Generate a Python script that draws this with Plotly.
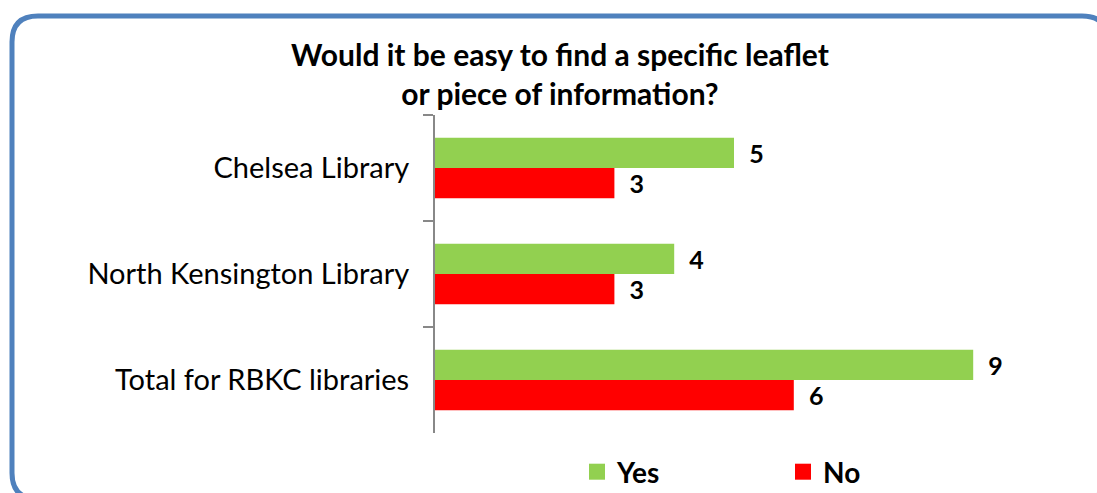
import plotly.graph_objects as go

categories = ["Chelsea Library", "North Kensington Library", "Total for RBKC libraries"]
yes_values = [5, 4, 9]
no_values = [3, 3, 6]
series_names = ["Yes", "No"]
title_text = "Would it be easy to find a specific leaflet<br>or piece of information?"

W_PX, H_PX = 1097, 493
L, R, T, B = 435, 64, 115, 60
PW, PH = W_PX - L - R, H_PX - T - B

def px(x):
    return (x - L) / PW

def py(y):
    return (H_PX - B - y) / PH

FONT = "Lato"
GREEN = "#92D050"
RED = "#FF0000"
COLORS = [GREEN, RED]
LBL = dict(family=FONT, size=29, color="black", weight="bold")

fig = go.Figure()
for name, vals, col in zip(series_names, [yes_values, no_values], COLORS):
    fig.add_trace(go.Bar(
        name=name, y=categories, x=vals, orientation="h",
        marker=dict(color=col, line=dict(width=0)),
        text=vals, texttemplate="\u00a0\u00a0%{x}", textposition="outside",
        textfont=LBL, cliponaxis=False, showlegend=False, legendgroup=name,
    ))
# legend entries with larger square swatches
for name, col in zip(series_names, COLORS):
    fig.add_trace(go.Scatter(
        name=name, x=[None], y=[None], mode="markers",
        marker=dict(symbol="square", size=18, color=col),
        showlegend=True, legendgroup=name, hoverinfo="skip",
    ))

# rounded border
x0, x1, y0, y1, r = 12, 1108, 16, 499, 26
path = (
    f"M {px(x0 + r)},{py(y1)} Q {px(x0)},{py(y1)} {px(x0)},{py(y1 - r)} "
    f"L {px(x0)},{py(y0 + r)} "
    f"Q {px(x0)},{py(y0)} {px(x0 + r)},{py(y0)} "
    f"L {px(x1 - r)},{py(y0)} Q {px(x1)},{py(y0)} {px(x1)},{py(y0 + r)} "
    f"L {px(x1)},{py(y1 - r)} Q {px(x1)},{py(y1)} {px(x1 - r)},{py(y1)} Z"
)

fig.update_layout(
    width=W_PX, height=H_PX,
    margin=dict(l=L, r=R, t=T, b=B, autoexpand=False),
    paper_bgcolor="white", plot_bgcolor="white",
    barmode="group", bargap=0.43, bargroupgap=0,
    showlegend=True,
    title=dict(
        text=title_text, x=560 / W_PX, xanchor="center", xref="container",
        y=1 - 66 / H_PX, yanchor="top", yref="container",
        font=dict(family=FONT, size=30, color="black", weight="bold"),
    ),
    legend=dict(
        orientation="h", x=px(577), xanchor="left", y=py(472), yanchor="middle",
        font=dict(family=FONT, size=28, color="black", weight="bold"),
        entrywidth=161, entrywidthmode="pixels", bgcolor="rgba(0,0,0,0)",
        traceorder="normal", itemsizing="trace",
    ),
    xaxis=dict(range=[0, 10], visible=False, showgrid=False, zeroline=False),
    yaxis=dict(
        autorange="reversed", type="category",
        showline=True, linecolor="#888888", linewidth=2,
        ticks="outside", ticklen=10, tickwidth=2, tickcolor="#888888",
        tickson="boundaries", ticklabelstandoff=18,
        tickfont=dict(family=FONT, size=29, color="black"),
        showgrid=False, zeroline=False,
    ),
    shapes=[dict(type="path", path=path, xref="paper", yref="paper",
                 line=dict(color="#4F81BD", width=5), layer="above")],
)

fig.write_html(
    "out.html",
    config={"displayModeBar": False},
    post_script="document.body.style.margin='0';document.body.style.overflow='hidden';",
)
